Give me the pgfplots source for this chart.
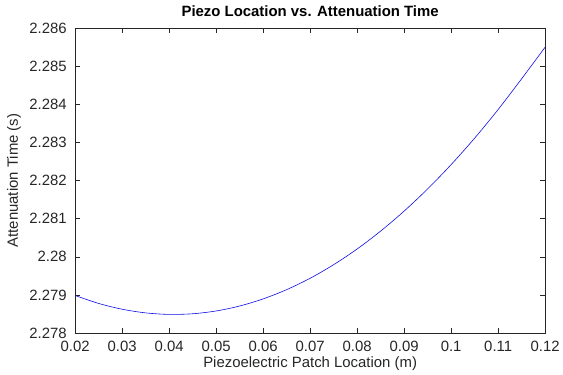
\documentclass[border=0pt]{standalone}
\usepackage{pgfplots}
\pgfplotsset{compat=1.18}
\usepackage{fontspec}
\setmainfont{Liberation Sans}
\definecolor{axgray}{rgb}{0.15,0.15,0.15}
\begin{document}
\begin{tikzpicture}
\begin{axis}[
  scale only axis,
  width=473pt, height=307pt,
  xmin=0.02, xmax=0.12,
  ymin=2.278, ymax=2.286,
  xtick={0.02,0.03,0.04,0.05,0.06,0.07,0.08,0.09,0.1,0.11,0.12},
  ytick={2.278,2.279,2.28,2.281,2.282,2.283,2.284,2.285,2.286},
  scaled x ticks=false, scaled y ticks=false,
  xticklabel style={/pgf/number format/fixed,/pgf/number format/precision=3, yshift=-4pt},
  yticklabel style={/pgf/number format/fixed,/pgf/number format/precision=3, xshift=-5pt},
  /pgf/number format/assume math mode=true,
  tick align=inside,
  major tick length=5pt,
  axis line style={axgray, line width=0.5pt},
  every tick/.style={axgray, line width=0.5pt},
  tick label style={font=\fontsize{15}{17}\selectfont, text=axgray},
  label style={font=\fontsize{15}{17}\selectfont, text=axgray},
  title style={font=\fontsize{15}{17}\selectfont\bfseries, inner ysep=6pt, yshift=-1pt},
  title={Piezo Location vs. Attenuation Time},
  xlabel={Piezoelectric Patch Location (m)},
  ylabel={Attenuation Time (s)},
  xlabel style={yshift=1pt},
  ylabel style={inner ysep=7pt, yshift=-2pt},
]
\addplot[color={rgb,1:red,0.05;green,0.05;blue,0.9}, line width=0.6pt, smooth, no marks] coordinates {
(0.020,2.278988)
(0.025,2.278779)
(0.030,2.278627)
(0.035,2.278531)
(0.040,2.278491)
(0.045,2.278508)
(0.050,2.278581)
(0.055,2.278711)
(0.060,2.278898)
(0.065,2.279140)
(0.070,2.279439)
(0.075,2.279795)
(0.080,2.280207)
(0.085,2.280676)
(0.090,2.281201)
(0.095,2.281782)
(0.100,2.282420)
(0.105,2.283114)
(0.110,2.283865)
(0.115,2.284672)
(0.120,2.285500)
};
\end{axis}
\end{tikzpicture}
\end{document}
